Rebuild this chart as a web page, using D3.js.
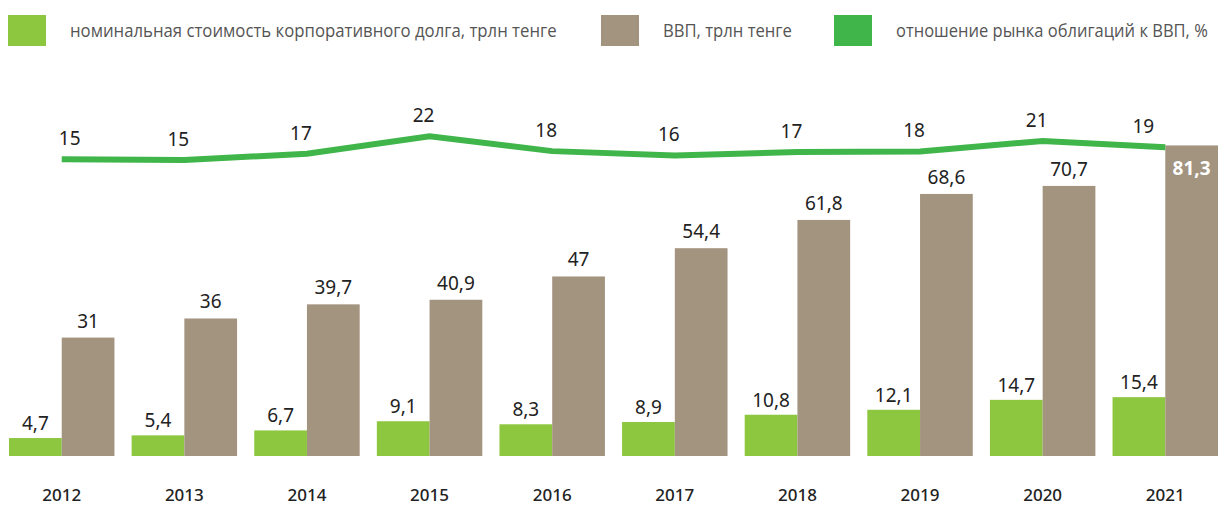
<!DOCTYPE html>
<html>
<head>
<meta charset="utf-8">
<script src="https://cdn.jsdelivr.net/npm/d3@7"></script>
<style>
  body { margin: 0; background: #fff; }
  svg { display: block; }
  .legend text { font-family: "Open Sans", sans-serif; font-size: 18px; fill: #555; }
  .val { font-family: "Noto Sans", sans-serif; font-size: 19px; fill: #222; }
  .year { font-family: "Noto Sans", sans-serif; font-size: 17px; font-weight: 500; fill: #222; }
</style>
</head>
<body>
<div id="chart"></div>
<script>
var years = ['2012', '2013', '2014', '2015', '2016', '2017', '2018', '2019', '2020', '2021'];
var debt = [4.7, 5.4, 6.7, 9.1, 8.3, 8.9, 10.8, 12.1, 14.7, 15.4];
var gdp = [31, 36, 39.7, 40.9, 47, 54.4, 61.8, 68.6, 70.7, 81.3];
var ratio = [15.2, 15.0, 16.9, 22.2, 17.7, 16.4, 17.4, 17.6, 20.8, 18.9];
var legendLabels = ['номинальная стоимость корпоративного долга, трлн тенге', 'ВВП, трлн тенге', 'отношение рынка облигаций к ВВП, %'];

var colors = { debt: '#8dc63f', gdp: '#a39480', ratio: '#3fb54a' };
var width = 1218, height = 506;
var baseY = 456;

var svg = d3.select('#chart').append('svg').attr('width', width).attr('height', height);

var x = d3.scaleBand().domain(years).range([9, 1218]).paddingInner(0.14).paddingOuter(0);
var sub = d3.scaleBand().domain(['debt', 'gdp']).range([0, x.bandwidth()]);
var y = d3.scaleLinear().domain([0, 100]).range([baseY, baseY - 382]);
var yr = d3.scaleLinear().domain([15, 22]).range([160, 137]);

var fmt = function(v) { return String(v).replace('.', ','); };

// legend (text squeezed to the condensed width of the original)
var legX = [8, 601, 834];
var legW = [487, 129, 312];
var leg = svg.append('g').attr('class', 'legend');
legendLabels.forEach(function(t, i) {
	var g = leg.append('g').attr('transform', 'translate(' + legX[i] + ',15)');
	g.append('rect').attr('width', 38).attr('height', 31).attr('fill', [colors.debt, colors.gdp, colors.ratio][i]);
	var tg = g.append('g');
	var txt = tg.append('text').attr('x', 0).attr('y', 22).text(t);
	var sx = legW[i] / txt.node().getComputedTextLength();
	tg.attr('transform', 'translate(62,0) scale(' + sx + ',1)');
});

var groups = svg.selectAll('.grp').data(years).enter().append('g')
	.attr('class', 'grp')
	.attr('transform', d => 'translate(' + x(d) + ',0)');

groups.append('rect')
	.attr('x', sub('debt')).attr('width', sub.bandwidth())
	.attr('y', (d, i) => y(debt[i])).attr('height', (d, i) => baseY - y(debt[i]))
	.attr('fill', colors.debt);

groups.append('rect')
	.attr('x', sub('gdp')).attr('width', sub.bandwidth())
	.attr('y', (d, i) => y(gdp[i])).attr('height', (d, i) => baseY - y(gdp[i]))
	.attr('fill', colors.gdp);

groups.append('text').attr('class', 'val')
	.attr('x', sub('debt') + sub.bandwidth() / 2).attr('y', (d, i) => y(debt[i]) - 8)
	.attr('text-anchor', 'middle').text((d, i) => fmt(debt[i]));

var last = years.length - 1;
groups.append('text').attr('class', 'val')
	.attr('x', sub('gdp') + sub.bandwidth() / 2)
	.attr('y', (d, i) => i == last ? y(gdp[i]) + 30 : y(gdp[i]) - 10)
	.attr('text-anchor', 'middle')
	.style('fill', (d, i) => i == last ? '#fff' : null)
	.style('font-weight', (d, i) => i == last ? 'bold' : null)
	.text((d, i) => fmt(gdp[i]));

// years
groups.append('text').attr('class', 'year')
	.attr('x', x.bandwidth() / 2).attr('y', 501)
	.attr('text-anchor', 'middle').text(d => d);

// ratio line
var cx = d => x(d) + x.bandwidth() / 2;
var line = d3.line().x((d, i) => cx(years[i])).y(d => yr(d));
svg.append('path').datum(ratio)
	.attr('d', line).attr('fill', 'none')
	.attr('stroke', colors.ratio).attr('stroke-width', 6);

svg.selectAll('.rlab').data(ratio).enter().append('text')
	.attr('class', 'val')
	.attr('x', (d, i) => cx(years[i]) + (i == 0 ? 8 : i == last ? -22 : -6))
	.attr('y', d => yr(d) - 14)
	.attr('text-anchor', 'middle')
	.text(d => Math.round(d));
</script>
</body>
</html>
